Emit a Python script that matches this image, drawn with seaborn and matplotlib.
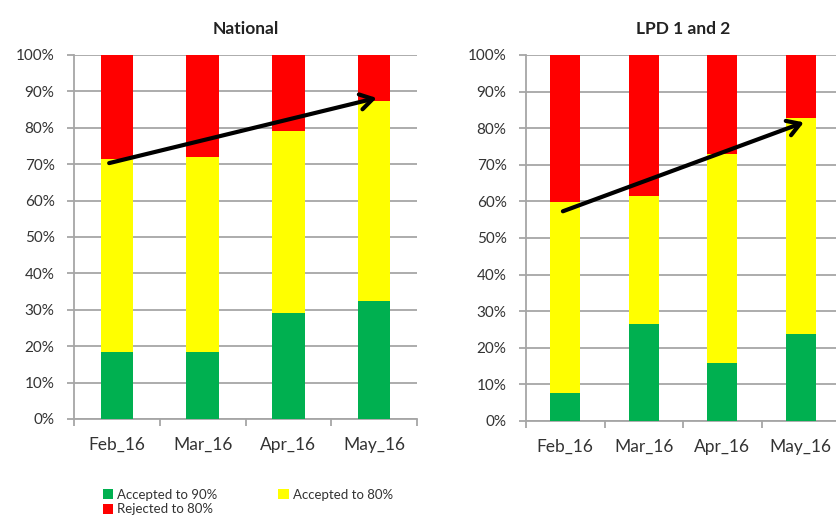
import matplotlib
matplotlib.use("Agg")
import matplotlib.pyplot as plt
from matplotlib.patches import Patch
import seaborn as sns
import pandas as pd
import numpy as np

# ---- data ----
months = ["Feb_16", "Mar_16", "Apr_16", "May_16"]
panel_titles = ["National", "LPD 1 and 2"]
series_names = ["Accepted to 90%", "Accepted to 80%", "Rejected to 80%"]

national_acc90 = [18.4, 18.3, 29.2, 32.4]
national_acc80 = [53.0, 53.7, 49.8, 55.0]
national_rej80 = [28.6, 28.0, 21.0, 12.6]

lpd_acc90 = [7.7, 26.6, 15.9, 23.8]
lpd_acc80 = [52.0, 35.0, 57.1, 58.9]
lpd_rej80 = [40.3, 38.4, 27.0, 17.3]

# trend arrows drawn on the charts (category index, percent)
national_arrow = [(-0.09, 70.3), (3.03, 88.2)]
lpd_arrow = [(-0.03, 57.3), (3.04, 81.6)]

yticks = [0, 10, 20, 30, 40, 50, 60, 70, 80, 90, 100]
ytick_labels = ["0%", "10%", "20%", "30%", "40%", "50%", "60%", "70%", "80%", "90%", "100%"]

colors = ["#00b050", "#ffff00", "#ff0000"]

sns.set_style("white")
plt.rcParams["font.family"] = ["Lato", "DejaVu Sans"]

fig = plt.figure(figsize=(8.36, 5.17), dpi=100)
axes = [
    fig.add_axes([74 / 836, 1 - 419 / 517, 343 / 836, 364 / 517]),
    fig.add_axes([526 / 836, 1 - 421 / 517, 314 / 836, 366 / 517]),
]

grid_col = "#a6a6a6"
text_col = "#333333"

panels = [
    (national_acc90, national_acc80, national_rej80, national_arrow),
    (lpd_acc90, lpd_acc80, lpd_rej80, lpd_arrow),
]

for ax, title, (g, y, r, arrow) in zip(axes, panel_titles, panels):
    df = pd.DataFrame({"Month": months, "g": g, "y": y, "r": r})
    df["top_g"] = df["g"]
    df["top_y"] = df["g"] + df["y"]
    df["top_r"] = df["g"] + df["y"] + df["r"]
    for col, c in [("top_r", colors[2]), ("top_y", colors[1]), ("top_g", colors[0])]:
        sns.barplot(data=df, x="Month", y=col, order=months, color=c,
                    saturation=1, width=0.38, ax=ax, linewidth=0, zorder=3)
    ax.set_xlim(-0.5, 3.5)
    ax.set_ylim(0, 100)
    ax.set_yticks(yticks)
    ax.set_yticklabels(ytick_labels)
    ax.set_xlabel("")
    ax.set_ylabel("")
    ax.yaxis.grid(True, color=grid_col, linewidth=1.3, zorder=0)
    ax.set_axisbelow(True)
    for s in ["top", "right"]:
        ax.spines[s].set_visible(False)
    for s in ["left", "bottom"]:
        ax.spines[s].set_color(grid_col)
        ax.spines[s].set_linewidth(1.3)
    ax.tick_params(axis="y", length=5, width=1.3, color=grid_col, pad=9,
                   labelsize=11, labelcolor=text_col, left=True)
    ax.set_xticks(range(len(months)))
    ax.set_xticklabels(months)
    ax.set_xticks(np.arange(-0.5, 3.6, 1.0), minor=True)
    ax.tick_params(axis="x", which="major", length=0, pad=13, labelsize=12.5,
                   labelcolor=text_col)
    ax.tick_params(axis="x", which="minor", length=5, width=1.3, color=grid_col,
                   bottom=True)
    ax.set_title(title, fontsize=12.5, fontweight="bold", color="#222222", pad=15)
    ax.annotate("", xy=arrow[1], xytext=arrow[0],
                arrowprops=dict(arrowstyle="->,head_length=0.9,head_width=0.55",
                                lw=3, color="black", shrinkA=0, shrinkB=0),
                zorder=5)

handles = [Patch(facecolor=colors[0], edgecolor="none"),
           Patch(facecolor=colors[2], edgecolor="none"),
           Patch(facecolor=colors[1], edgecolor="none")]
labels = [series_names[0], series_names[2], series_names[1]]
fig.legend(handles, labels, loc="upper left", bbox_to_anchor=(96 / 836, 1 - 482 / 517),
           ncol=2, frameon=False, fontsize=9.5, handlelength=0.8, handleheight=0.8,
           handletextpad=0.3, columnspacing=4.6, labelspacing=0.2, borderpad=0,
           labelcolor=text_col)

fig.savefig("out.png", dpi=100)
